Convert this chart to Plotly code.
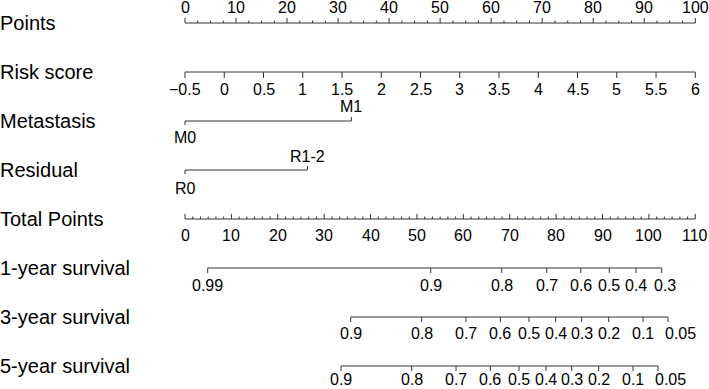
import plotly.graph_objects as go

# ---------------- data ----------------
row_labels = ["Points", "Risk score", "Metastasis", "Residual", "Total Points",
              "1-year survival", "3-year survival", "5-year survival"]

points_ticks = list(range(0, 101, 10))
risk_ticks = [-0.5, 0, 0.5, 1, 1.5, 2, 2.5, 3, 3.5, 4, 4.5, 5, 5.5, 6]
risk_labels = ["\u22120.5", "0", "0.5", "1", "1.5", "2", "2.5", "3", "3.5", "4", "4.5", "5", "5.5", "6"]
risk_min, risk_max = -0.5, 6

metastasis_levels = ["M0", "M1"]
metastasis_points = [0, 32.6]
residual_levels = ["R0", "R1-2"]
residual_points = [0, 24.0]

total_ticks = list(range(0, 111, 10))
total_max = 110

surv1_labels = ["0.99", "0.9", "0.8", "0.7", "0.6", "0.5", "0.4", "0.3"]
surv1_total = [4.89, 52.96, 68.27, 77.97, 85.30, 91.46, 97.22, 102.76]
surv3_labels = ["0.9", "0.8", "0.7", "0.6", "0.5", "0.4", "0.3", "0.2", "0.1", "0.05"]
surv3_total = [35.72, 51.02, 60.57, 67.97, 74.15, 79.91, 85.51, 91.33, 98.73, 104.12]
surv5_labels = ["0.9", "0.8", "0.7", "0.6", "0.5", "0.4", "0.3", "0.2", "0.1", "0.05"]
surv5_total = [33.63, 48.87, 58.42, 65.81, 72.00, 77.82, 83.36, 89.18, 96.57, 101.96]

# ---------------- layout constants ----------------
W, H = 709, 389
X0_PX, PX_PER_PT = 185.0, 5.103
ROW_Y = [23, 72, 121, 170, 219, 268, 317, 366]
LINE_COLOR = "#333333"
FONT = "Liberation Sans, Arial, sans-serif"
TICK_SIZE = 16
ROW_SIZE = 20


def risk_to_pts(v):
    return (v - risk_min) / (risk_max - risk_min) * 100


def total_to_pts(v):
    return v * 100 / total_max


fig = go.Figure()
annotations = []


def add_axis(xs_line, y, ticks, tick_dirs, tick_lens):
    xs, ys = [xs_line[0], xs_line[1], None], [y, y, None]
    for t, d, L in zip(ticks, tick_dirs, tick_lens):
        xs += [t, t, None]
        ys += [y, y + d * L, None]
    fig.add_trace(go.Scatter(x=xs, y=ys, mode="lines",
                             line=dict(color=LINE_COLOR, width=1),
                             hoverinfo="skip", showlegend=False))


def add_label(x, y, text, size=TICK_SIZE, xanchor="center", xshift=0):
    annotations.append(dict(x=x, y=y, xref="x", yref="y", text=text, showarrow=False,
                            xanchor=xanchor, yanchor="middle", xshift=xshift,
                            font=dict(family=FONT, size=size, color="black")))


# Row labels
for lab, y in zip(row_labels, ROW_Y):
    add_label(-X0_PX / PX_PER_PT, y, lab, size=ROW_SIZE, xanchor="left", xshift=-2)

# Points axis (ticks up, labels above)
minor = [i * 2.5 for i in range(41)]
add_axis([0, 100], ROW_Y[0], minor, [-1] * len(minor),
         [5 if abs(m % 10) < 1e-9 else 2.5 for m in minor])
for t in points_ticks:
    add_label(t, 7, str(t))

# Risk score (ticks down, labels below)
rp = [risk_to_pts(v) for v in risk_ticks]
add_axis([rp[0], rp[-1]], ROW_Y[1], rp, [1] * len(rp), [6] * len(rp))
for p, lab in zip(rp, risk_labels):
    add_label(p, 89, lab)

# Metastasis
add_axis(metastasis_points, ROW_Y[2], metastasis_points, [1, -1], [4, 4])
add_label(metastasis_points[0], 137.5, metastasis_levels[0])
add_label(metastasis_points[1], 106, metastasis_levels[1])

# Residual
add_axis(residual_points, ROW_Y[3], residual_points, [1, -1], [4, 4])
add_label(residual_points[0], 188, residual_levels[0])
add_label(residual_points[1], 156, residual_levels[1])

# Total points (ticks up, labels below)
tminor = [i * 10 / 6 for i in range(67)]
tp = [total_to_pts(v) for v in tminor]
add_axis([0, 100], ROW_Y[4], tp, [-1] * len(tp),
         [5 if i % 6 == 0 else 2.5 for i in range(len(tminor))])
for t in total_ticks:
    add_label(total_to_pts(t), 235.5, str(t))

# Survival axes (last label nudged right to avoid overlap, as in the original)
for labs, tots, y, ly in [(surv1_labels, surv1_total, ROW_Y[5], 285),
                          (surv3_labels, surv3_total, ROW_Y[6], 333),
                          (surv5_labels, surv5_total, ROW_Y[7], 379.5)]:
    ps = [total_to_pts(v) for v in tots]
    add_axis([ps[0], ps[-1]], y, ps, [1] * len(ps), [5] * len(ps))
    for i, (p, lab) in enumerate(zip(ps, labs)):
        shift = 12 if (lab == "0.05" and i == len(labs) - 1) else (3 if lab == "0.3" and i == len(labs) - 1 else 0)
        add_label(p, ly, lab, xshift=shift)

fig.update_layout(
    width=W, height=H, margin=dict(l=0, r=0, t=0, b=0),
    plot_bgcolor="white", paper_bgcolor="white",
    xaxis=dict(range=[-X0_PX / PX_PER_PT, (W - X0_PX) / PX_PER_PT], visible=False, fixedrange=True),
    yaxis=dict(range=[H, 0], visible=False, fixedrange=True),
    annotations=annotations, showlegend=False,
)
fig.write_html("out.html", config={"displayModeBar": False},
               post_script="document.body.style.margin='0';document.body.style.padding='0';")
